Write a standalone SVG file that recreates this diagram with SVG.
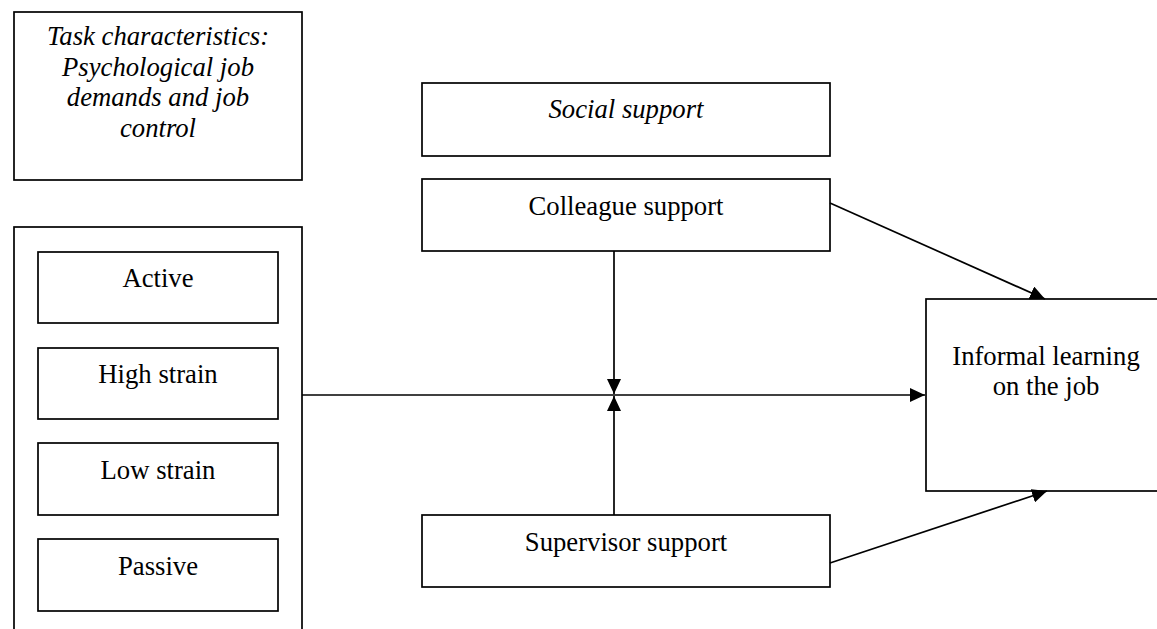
<svg xmlns="http://www.w3.org/2000/svg" width="1157" height="629" viewBox="0 0 1157 629">
<style>
.box{fill:#fff;stroke:#000;stroke-width:1.7}
.t{font-family:"Liberation Serif","Times New Roman",serif;font-size:26.7px;fill:#000;text-anchor:middle}
.i{font-style:italic}
.c{stroke:#000;stroke-width:1.7;fill:none}
</style>
<defs>
<marker id="ah" markerUnits="userSpaceOnUse" markerWidth="16" markerHeight="14" refX="15" refY="7" orient="auto">
<path d="M0,0 L15,7 L0,14 Z" fill="#000"/>
</marker>
</defs>
<rect width="1157" height="629" fill="#fff"/>
<g id="task">
<rect class="box" x="14" y="12" width="288" height="168"/>
<text class="t i" x="158" y="45">Task characteristics:</text>
<text class="t i" x="158" y="76">Psychological job</text>
<text class="t i" x="158" y="106">demands and job</text>
<text class="t i" x="158" y="137">control</text>
</g>
<g id="types">
<rect class="box" x="14" y="227" width="288" height="420"/>
</g>
<g id="active">
<rect class="box" x="38" y="252" width="240" height="71"/>
<text class="t" x="158" y="287">Active</text>
</g>
<g id="highstrain">
<rect class="box" x="38" y="348" width="240" height="71"/>
<text class="t" x="158" y="383">High strain</text>
</g>
<g id="lowstrain">
<rect class="box" x="38" y="443" width="240" height="72"/>
<text class="t" x="158" y="479">Low strain</text>
</g>
<g id="passive">
<rect class="box" x="38" y="539" width="240" height="72"/>
<text class="t" x="158" y="575">Passive</text>
</g>
<g id="social">
<rect class="box" x="422" y="83" width="408" height="73"/>
<text class="t i" x="626" y="118">Social support</text>
</g>
<g id="colleague">
<rect class="box" x="422" y="179" width="408" height="72"/>
<text class="t" x="626" y="215">Colleague support</text>
</g>
<g id="supervisor">
<rect class="box" x="422" y="515" width="408" height="72"/>
<text class="t" x="626" y="551">Supervisor support</text>
</g>
<g id="informal">
<rect class="box" x="926" y="299" width="250" height="192"/>
<text class="t" x="1046" y="365">Informal learning</text>
<text class="t" x="1046" y="395">on the job</text>
</g>
<g id="connectors">
<line class="c" x1="302" y1="395" x2="925" y2="395" marker-end="url(#ah)"/>
<line class="c" x1="614" y1="251" x2="614" y2="394" marker-end="url(#ah)"/>
<line class="c" x1="614" y1="515" x2="614" y2="396" marker-end="url(#ah)"/>
<line class="c" x1="830" y1="203" x2="1045" y2="299" marker-end="url(#ah)"/>
<line class="c" x1="830" y1="563" x2="1047" y2="491" marker-end="url(#ah)"/>
</g>
</svg>
